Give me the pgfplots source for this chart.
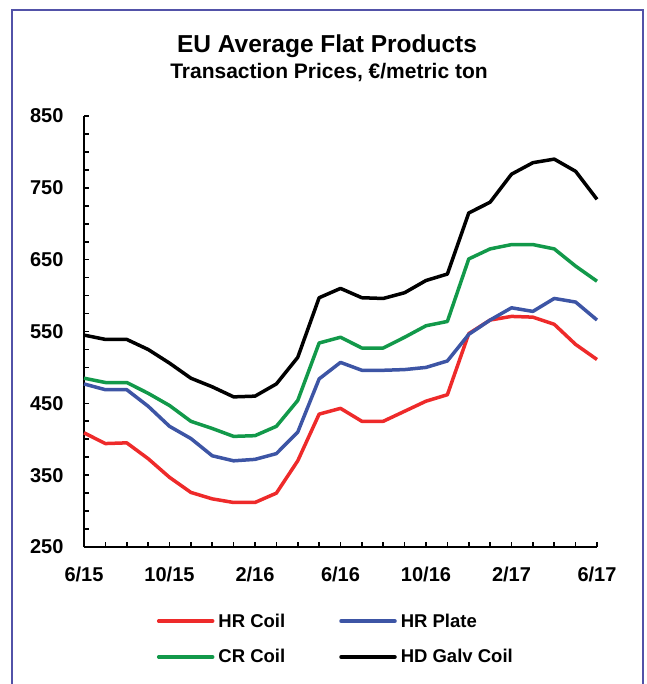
\documentclass[border=0pt]{standalone}
\usepackage{pgfplots}
\pgfplotsset{compat=1.18}
\usepackage{fontspec}
\setmainfont{Liberation Sans}
\definecolor{hrcoil}{HTML}{EE2A2A}
\definecolor{hrplate}{HTML}{3D55A5}
\definecolor{crcoil}{HTML}{12994A}
\definecolor{framecol}{HTML}{5252A8}
\pgfplotstableread{
i hr plate cr galv
0 409 477 485 545
1 394 469 479 539
2 395 469 479 539
3 373 446 464 525
4 347 418 447 506
5 326 401 425 485
6 317 377 415 473
7 312 370 404 459
8 312 372 405 460
9 325 380 418 477
10 370 410 454 514
11 435 484 534 597
12 443 507 542 610
13 425 496 527 597
14 425 496 527 596
15 439 497 542 604
16 453 500 558 621
17 462 509 564 630
18 547 546 651 715
19 566 566 665 730
20 571 583 671 769
21 570 578 671 785
22 560 596 665 790
23 532 591 641 773
24 511 566 620 734
}\datatable
\begin{document}
\begin{tikzpicture}[x=1pt,y=1pt]
\path[use as bounding box] (0,0) rectangle (646,-684);
\draw[framecol, line width=2.2pt] (12,-700) -- (12,-10) -- (643,-10) -- (643,-700);
\node[font=\fontsize{24.5}{27}\selectfont\bfseries, anchor=base, inner sep=0pt] at (327,-53) {EU Average Flat Products};
\node[font=\fontsize{21}{24}\selectfont\bfseries, anchor=base, inner sep=0pt] at (329,-79) {Transaction Prices, €/metric ton};
\begin{axis}[
  at={(84pt,-547pt)}, anchor=south west,
  scale only axis, width=513pt, height=431pt,
  xmin=0, xmax=24, ymin=250, ymax=850,
  axis x line*=bottom, axis y line*=left,
  axis line style={line width=1.6pt, -},
  xtick={0,4,...,24},
  xticklabels={6/15,10/15,2/16,6/16,10/16,2/17,6/17},
  minor x tick num=3,
  ytick={250,350,...,850},
  minor y tick num=3,
  tick align=inside,
  major tick length=5pt, minor tick length=5pt,
  tick style={line width=1.6pt, black},
  ticklabel style={font=\fontsize{20}{24}\selectfont\bfseries},
  /pgf/number format/assume math mode=true,
  yticklabel style={xshift=-17pt},
  xticklabel style={yshift=-16pt},
  clip=false,
  legend columns=2,
  legend cell align=left,
  legend style={at={(0.49,-0.2135)}, anchor=center, draw=none, fill=none,
    font=\fontsize{18.5}{20}\selectfont\bfseries,
    /tikz/every even column/.append style={column sep=51pt},
    row sep=17pt},
  legend image code/.code={\draw[#1, line width=3.5pt, line cap=round] (0pt,0pt) -- (54pt,0pt); \path (-1pt,0pt) (56pt,0pt);},
]
\addplot[hrcoil, line width=3.5pt, line join=round] table[x=i, y=hr] {\datatable};
\addlegendentry{HR Coil}
\addplot[hrplate, line width=3.5pt, line join=round] table[x=i, y=plate] {\datatable};
\addlegendentry{HR Plate}
\addplot[crcoil, line width=3.5pt, line join=round] table[x=i, y=cr] {\datatable};
\addlegendentry{CR Coil}
\addplot[black, line width=3.5pt, line join=round] table[x=i, y=galv] {\datatable};
\addlegendentry{HD Galv Coil}
\end{axis}
\end{tikzpicture}
\end{document}
